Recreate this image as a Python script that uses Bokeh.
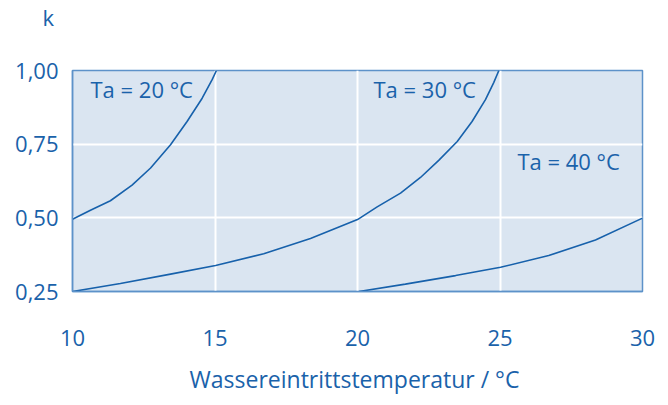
from bokeh.plotting import figure
from bokeh.models import Range1d, FixedTicker, Label
from bokeh.embed import file_html
from bokeh.resources import INLINE

# Data
x_ta20 = [10.0, 10.63, 11.33, 12.09, 12.74, 13.44, 14.02, 14.55, 14.90, 15.05]
k_ta20 = [0.495, 0.526, 0.558, 0.611, 0.669, 0.748, 0.827, 0.906, 0.969, 1.00]

x_ta30 = [10.0, 11.68, 13.44, 15.02, 16.71, 18.35, 20.0, 20.69, 21.51, 22.21,
          22.85, 23.50, 24.02, 24.49, 24.78, 24.96]
k_ta30 = [0.25, 0.277, 0.309, 0.338, 0.378, 0.430, 0.494, 0.537, 0.584, 0.637,
          0.695, 0.759, 0.827, 0.901, 0.959, 1.00]

x_ta40 = [20.05, 21.68, 23.44, 25.02, 26.71, 28.35, 30.0]
k_ta40 = [0.25, 0.275, 0.304, 0.332, 0.372, 0.425, 0.499]

x_ticks = [10, 15, 20, 25, 30]
y_ticks = [0.25, 0.50, 0.75, 1.00]
y_tick_labels = ["0,25", "0,50", "0,75", "1,00"]
series_labels = ["Ta = 20 °C", "Ta = 30 °C", "Ta = 40 °C"]
x_title = "Wassereintrittstemperatur /  °C"
y_title = "k"

BLUE = "#1761ab"
TEXT = "#1a62aa"
FONT = "Open Sans"
FS = "22px"

p = figure(width=660, height=397, output_backend="svg", toolbar_location=None,
           x_range=Range1d(10, 30), y_range=Range1d(0.25, 1.0),
           min_border_left=72, min_border_right=18, min_border_top=70, min_border_bottom=90)

p.background_fill_color = "#dae5f1"
p.border_fill_color = "white"
p.outline_line_color = "#5d92c9"
p.outline_line_width = 1.5

# y-axis title "k", horizontal, top-left above the axis
p.title.text = y_title + "\n "
p.title.align = "left"
p.title.offset = -30
p.title.standoff = 2
p.title.vertical_align = "top"
p.title.text_line_height = 1.2
p.title.text_color = TEXT
p.title.text_font = FONT
p.title.text_font_size = FS
p.title.text_font_style = "normal"

for ax in (p.xaxis, p.yaxis):
    ax.axis_line_color = "#5d92c9"
    ax.axis_line_width = 1.5
    ax.major_tick_line_color = None
    ax.minor_tick_line_color = None
    ax.major_tick_out = 0
    ax.major_tick_in = 0
    ax.major_label_text_color = TEXT
    ax.major_label_text_font = FONT
    ax.major_label_text_font_size = FS

p.xaxis.ticker = FixedTicker(ticks=x_ticks)
p.yaxis.ticker = FixedTicker(ticks=y_ticks)
p.yaxis.major_label_overrides = {t: l for t, l in zip(y_ticks, y_tick_labels)}
p.xaxis.major_label_standoff = 38
p.yaxis.major_label_standoff = 14

p.xaxis.axis_label = x_title
p.xaxis.axis_label_text_color = TEXT
p.xaxis.axis_label_text_font = FONT
p.xaxis.axis_label_text_font_size = "23px"
p.xaxis.axis_label_text_font_style = "normal"
p.xaxis.axis_label_standoff = 14

p.xgrid.grid_line_color = "white"
p.ygrid.grid_line_color = "white"
p.xgrid.grid_line_width = 2
p.ygrid.grid_line_width = 2

for xs, ks in ((x_ta20, k_ta20), (x_ta30, k_ta30), (x_ta40, k_ta40)):
    p.line(xs, ks, line_color=BLUE, line_width=1.6)

label_pos = [(10.63, 0.937), (20.56, 0.937), (25.61, 0.693)]
for (lx, ly), txt in zip(label_pos, series_labels):
    p.add_layout(Label(x=lx, y=ly, text=txt, text_color=TEXT, text_font=FONT,
                       text_font_size=FS, text_baseline="middle", text_align="left"))

open("out.html", "w").write(file_html(p, INLINE))
